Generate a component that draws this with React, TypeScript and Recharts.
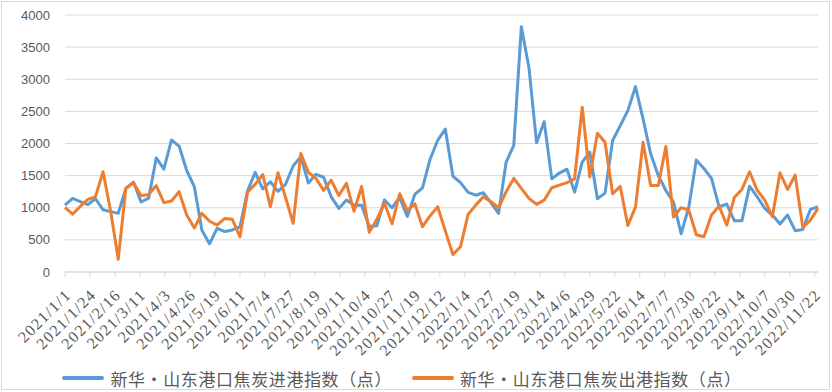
import { LineChart, Line, XAxis, YAxis, CartesianGrid, Legend } from "recharts";

// weekly index values, starting 2021/1/1
const inbound = [
  1040, 1145, 1095, 1050, 1140, 970, 940, 912, 1300, 1400,
  1090, 1150, 1775, 1600, 2055, 1960, 1580, 1330, 650, 440,
  680, 630, 655, 700, 1260, 1550, 1295, 1405, 1255, 1365,
  1650, 1795, 1385, 1520, 1475, 1170, 990, 1120, 1040, 1040,
  710, 720, 1120, 1000, 1160, 865, 1210, 1310, 1755, 2050,
  2225, 1490, 1390, 1240, 1195, 1234, 1080, 912, 1710, 1970,
  3818, 3180, 2010, 2340, 1450, 1540, 1600, 1245, 1710, 1865,
  1140, 1228, 2046, 2279, 2512, 2885, 2383, 1839, 1502, 1269,
  1088, 596, 1000, 1745, 1611, 1456, 1015, 1057, 798, 798,
  1337, 1171, 990, 886, 746, 886, 643, 663, 974, 1015,
];

const outbound = [
  1005, 900, 1020, 1130, 1170, 1560, 950, 200, 1300, 1390,
  1185, 1205, 1345, 1080, 1105, 1250, 886, 685, 912, 790,
  730, 834, 820, 545, 1240, 1365, 1515, 1016, 1545, 1160,
  756, 1846, 1550, 1457, 1270, 1430, 1190, 1380, 945, 1330,
  620, 820, 1070, 750, 1218, 958, 1062, 705, 873, 1016,
  640, 273, 393, 896, 1041, 1171, 1093, 1000, 1249, 1457,
  1301, 1145, 1052, 1119, 1311, 1353, 1390, 1451, 2564, 1477,
  2160, 2020, 1218, 1332, 725, 1010, 2020, 1347, 1347, 1953,
  855, 1000, 969, 580, 549, 886, 1026, 731, 1161, 1285,
  1560, 1275, 1119, 860, 1544, 1285, 1508, 694, 808, 990,
];

const tickLabels = [
  "2021/1/1", "2021/1/24", "2021/2/16", "2021/3/11", "2021/4/3", "2021/4/26",
  "2021/5/19", "2021/6/11", "2021/7/4", "2021/7/27", "2021/8/19", "2021/9/11",
  "2021/10/4", "2021/10/27", "2021/11/19", "2021/12/12", "2022/1/4", "2022/1/27",
  "2022/2/19", "2022/3/14", "2022/4/6", "2022/4/29", "2022/5/22", "2022/6/14",
  "2022/7/7", "2022/7/30", "2022/8/22", "2022/9/14", "2022/10/7", "2022/10/30",
  "2022/11/22",
];

const yTicks = [0, 500, 1000, 1500, 2000, 2500, 3000, 3500, 4000];

const series = [
  { key: "inbound", name: "新华•山东港口焦炭进港指数（点）", color: "#5B9BD5" },
  { key: "outbound", name: "新华•山东港口焦炭出港指数（点）", color: "#ED7D31" },
];

const DAY = 86400000;
const START = Date.UTC(2021, 0, 1);

const toDay = (s: string) => {
  const [y, m, d] = s.split("/").map(Number);
  return Math.round((Date.UTC(y, m - 1, d) - START) / DAY);
};

const fmtDay = (day: number) => {
  const t = new Date(START + day * DAY);
  return `${t.getUTCFullYear()}/${t.getUTCMonth() + 1}/${t.getUTCDate()}`;
};

const tickDays = tickLabels.map(toDay);
const lastDay = (inbound.length - 1) * 7;

const data = inbound.map((v, i) => ({
  day: i * 7,
  inbound: v,
  outbound: outbound[i],
}));

const DateTick = ({ x, y, payload }: any) => (
  <g transform={`translate(${x + 3},${y + 13}) rotate(-45)`}>
    <text
      x={0}
      y={0}
      dy="0.35em"
      textAnchor="end"
      fill="#595959"
      fontSize={16}
      fontFamily="'Liberation Serif', serif"
      style={{ letterSpacing: 1.3 }}
    >
      {fmtDay(payload.value)}
    </text>
  </g>
);

const renderLegend = () => (
  <div
    style={{
      display: "flex",
      justifyContent: "center",
      paddingRight: 28,
      gap: 20,
      fontFamily: "'Noto Sans CJK SC', sans-serif",
      fontSize: 17,
      letterSpacing: 0.6,
      color: "#595959",
      height: 28,
      alignItems: "center",
    }}
  >
    {series.map((s) => (
      <span key={s.key} style={{ display: "flex", alignItems: "center" }}>
        <span
          style={{
            display: "inline-block",
            width: 42,
            height: 4,
            borderRadius: 2,
            background: s.color,
            marginRight: 6,
          }}
        />
        {s.name}
      </span>
    ))}
  </div>
);

export default function App() {
  return (
    <div style={{ position: "absolute", left: 0, top: 0, width: 832, height: 392, background: "#fff" }}>
      <div
        style={{
          position: "absolute",
          left: 1,
          top: 1,
          width: 829,
          height: 389,
          border: "1px solid #D9D9D9",
          boxSizing: "border-box",
        }}
      />
      <LineChart
        width={832}
        height={392}
        data={data}
        margin={{ top: 15, right: 14, left: 0, bottom: 0 }}
      >
        <CartesianGrid vertical={false} stroke="#D9D9D9" strokeWidth={1} />
        <XAxis
          dataKey="day"
          type="number"
          domain={[0, lastDay]}
          ticks={tickDays}
          interval={0}
          height={92}
          stroke="#D9D9D9"
          tickSize={5}
          tick={<DateTick />}
        />
        <YAxis
          domain={[0, 4000]}
          ticks={yTicks}
          width={65}
          axisLine={false}
          tickLine={false}
          tickMargin={9}
          tick={{ fill: "#595959", fontSize: 13, fontFamily: "'Liberation Sans', sans-serif" }}
        />
        <Legend verticalAlign="bottom" content={renderLegend} wrapperStyle={{ left: 0, width: 832 }} />
        {series.map((s) => (
          <Line
            key={s.key}
            type="linear"
            dataKey={s.key}
            name={s.name}
            stroke={s.color}
            strokeWidth={3}
            strokeLinejoin="round"
            dot={false}
            isAnimationActive={false}
          />
        ))}
      </LineChart>
    </div>
  );
}
